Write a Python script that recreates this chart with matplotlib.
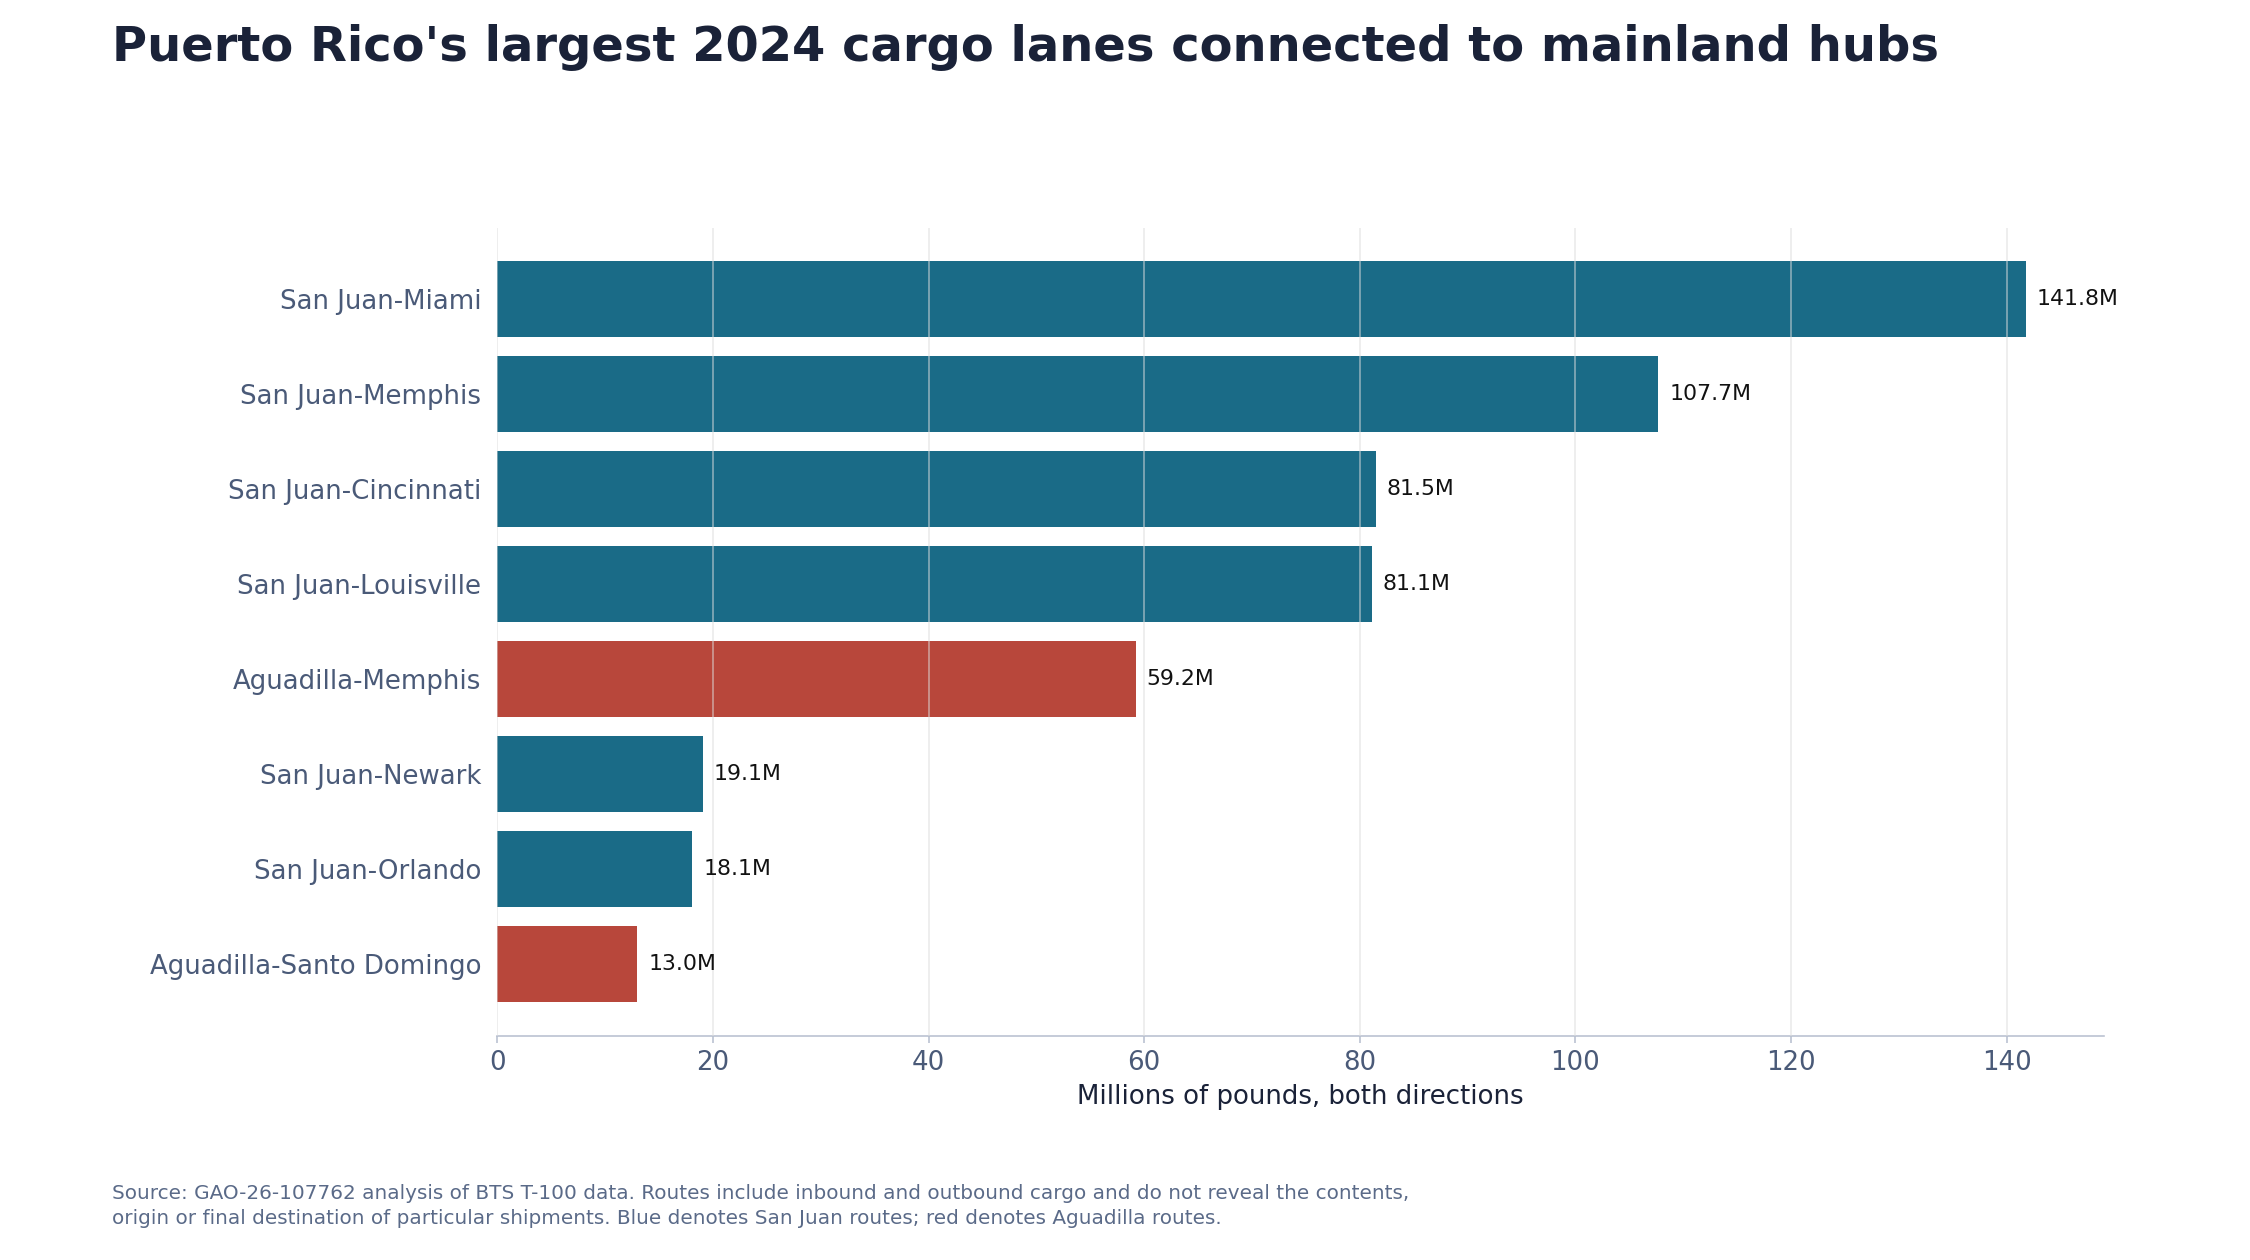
import matplotlib
matplotlib.use("Agg")
import matplotlib.pyplot as plt

routes = ["San Juan-Miami", "San Juan-Memphis", "San Juan-Cincinnati", "San Juan-Louisville",
          "Aguadilla-Memphis", "San Juan-Newark", "San Juan-Orlando", "Aguadilla-Santo Domingo"]
values = [141.8, 107.7, 81.5, 81.1, 59.2, 19.1, 18.1, 13.0]
airport = ["SJ", "SJ", "SJ", "SJ", "AG", "SJ", "SJ", "AG"]
colors_map = {"SJ": "#1a6b87", "AG": "#b8473b"}

fig = plt.figure(figsize=(15.625, 8.75), dpi=144)
ax = fig.add_axes([0.221, 0.178, 0.714, 0.641])
y = list(range(len(routes)))
bars = ax.barh(y, values, height=0.8, color=[colors_map[a] for a in airport], zorder=2)
ax.set_yticks(y)
ax.set_yticklabels(routes)
ax.invert_yaxis()
ax.set_ylim(len(routes) - 0.25, -0.75)
ax.set_xlim(0, 149)
ax.set_xticks(range(0, 141, 20))
for b, v in zip(bars, values):
    ax.text(v + 1, b.get_y() + b.get_height() / 2, f"{v:.1f}M", va="center", ha="left",
            fontsize=11, color="#111111")
ax.grid(axis="x", color="#dddddd", linewidth=0.8, alpha=0.6, zorder=3)
ax.set_axisbelow(False)
for s in ["top", "right", "left"]:
    ax.spines[s].set_visible(False)
ax.spines["bottom"].set_color("#b8c0d0")
ax.tick_params(axis="y", length=0, labelsize=13, labelcolor="#4a5a78", pad=8)
ax.tick_params(axis="x", labelsize=13, labelcolor="#4a5a78", color="#b8c0d0")
ax.set_xlabel("Millions of pounds, both directions", fontsize=13, color="#1a2238")
fig.text(0.05, 0.962, "Puerto Rico's largest 2024 cargo lanes connected to mainland hubs",
         fontsize=24, fontweight="bold", color="#1a2238", va="center")
fig.text(0.05, 0.043, "Source: GAO-26-107762 analysis of BTS T-100 data. Routes include inbound and outbound cargo and do not reveal the contents,\n"
         "origin or final destination of particular shipments. Blue denotes San Juan routes; red denotes Aguadilla routes.",
         fontsize=10, color="#5a6a88", va="center", linespacing=1.4)
fig.savefig("out.png", dpi=144)
